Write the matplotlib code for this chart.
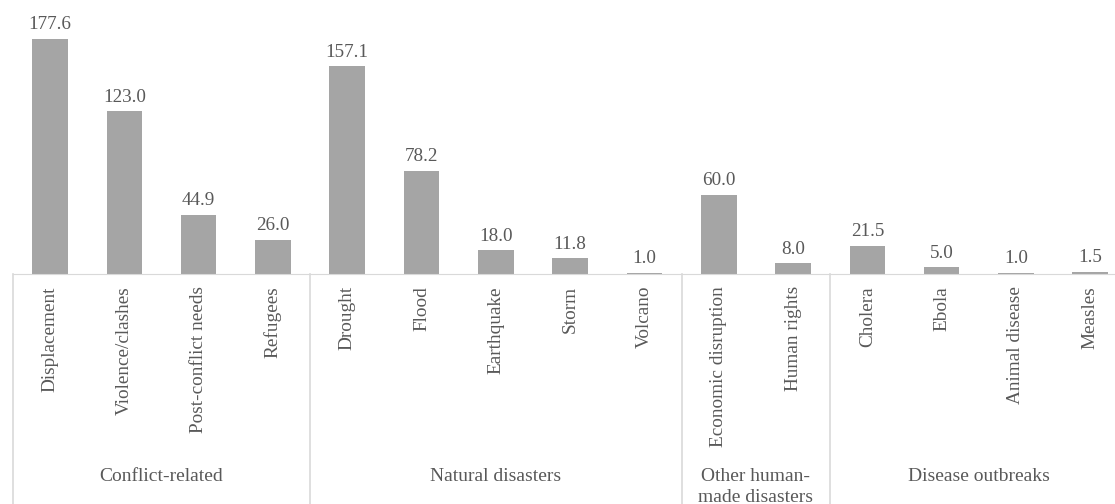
import matplotlib.pyplot as plt
import numpy as np

plt.rcParams['font.family'] = ['Liberation Serif', 'DejaVu Serif']

categories = ['Displacement', 'Violence/clashes', 'Post-conflict needs', 'Refugees',
              'Drought', 'Flood', 'Earthquake', 'Storm', 'Volcano',
              'Economic disruption', 'Human rights',
              'Cholera', 'Ebola', 'Animal disease', 'Measles']
values = [177.6, 123.0, 44.9, 26.0,
          157.1, 78.2, 18.0, 11.8, 1.0,
          60.0, 8.0,
          21.5, 5.0, 1.0, 1.5]
groups = ['Conflict-related', 'Natural disasters', 'Other human-\nmade disasters', 'Disease outbreaks']
group_sizes = [4, 5, 2, 4]

bar_color = '#A5A5A5'
text_color = '#595959'
line_color = '#D9D9D9'

W, H = 1115, 504
fig = plt.figure(figsize=(W / 100, H / 100), dpi=100)
left_px, right_px = 12.9, 12.9 + 15 * 74.3
base_px, top_px = 274, 9.4
ax = fig.add_axes([left_px / W, 1 - base_px / H, (right_px - left_px) / W, (base_px - top_px) / H])

x = np.arange(len(categories))
ax.bar(x, values, width=0.48, color=bar_color)
ax.set_xlim(-0.5, len(categories) - 0.5)
ax.set_ylim(0, 200)

for xi, v in zip(x, values):
    ax.annotate('{:.1f}'.format(v), (xi, v), xytext=(0, 4), textcoords='offset points',
                ha='center', va='bottom', fontsize=13.8, color=text_color)

for s in ['top', 'right', 'left']:
    ax.spines[s].set_visible(False)
ax.spines['bottom'].set_color(line_color)
ax.set_yticks([])
ax.set_xticks([])

trans = ax.get_xaxis_transform()
bottom_ax = -(H - base_px) / (base_px - top_px)
for xi, name in zip(x, categories):
    ax.text(xi, -12 / (base_px - top_px), name, transform=trans, rotation=90,
            ha='center', va='top', fontsize=13.9, color=text_color)

bounds = np.concatenate([[0], np.cumsum(group_sizes)]) - 0.5
for b in bounds:
    ax.plot([b, b], [0, bottom_ax], transform=trans, color=line_color, lw=1.2, clip_on=False)

for i, g in enumerate(groups):
    c = (bounds[i] + bounds[i + 1]) / 2
    ax.text(c, -(468 - base_px) / (base_px - top_px), g, transform=trans,
            ha='center', va='top', fontsize=14, color=text_color, linespacing=1.3)

fig.savefig('out.png', dpi=100)
